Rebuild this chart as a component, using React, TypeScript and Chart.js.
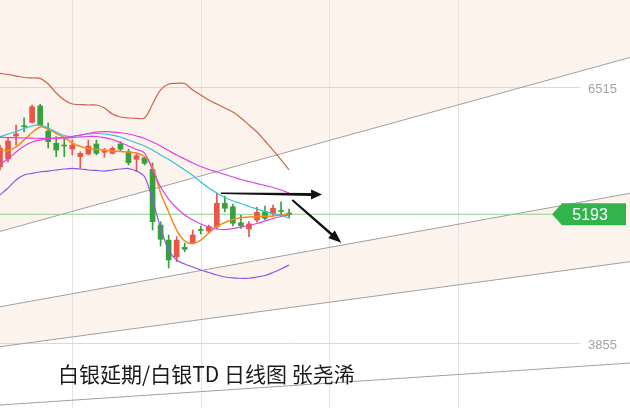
import React, { useEffect, useRef } from "react";
import { Chart, registerables } from "chart.js";
Chart.register(...registerables);

// ---- axis ranges (price / day index) ----
const X_MIN = 0;
const X_MAX = 78.45;
const Y_MIN = 3180;
const Y_MAX = 7419;

// ---- daily candles ----
const days = [0, 1, 2, 3, 4, 5, 6, 7, 8, 9, 10, 11, 12, 13, 14, 15, 16, 17, 18, 19, 20, 21, 22, 23, 24, 25, 26, 27, 28, 29, 30, 31, 32, 33, 34, 35, 36];
const opens = [5684, 5767, 6006, 6113, 6148, 6318, 6058, 5930, 5912, 5871, 5791, 5819, 5923, 5837, 5826, 5923, 5843, 5764, 5780, 5660, 5081, 4925, 4752, 4850, 4897, 5035, 5019, 5064, 5307, 5271, 5105, 5040, 5133, 5219, 5203, 5232, 5206];
const closes = [5881, 5954, 6027, 6103, 6310, 6120, 5947, 5860, 5902, 5912, 5826, 5902, 5826, 5853, 5878, 5868, 5729, 5801, 5722, 5116, 4933, 4718, 4925, 4829, 4977, 5024, 5064, 5307, 5255, 5099, 5074, 5092, 5213, 5151, 5255, 5222, 5193];
const highs = [5912, 5985, 6120, 6196, 6328, 6335, 6141, 5999, 5985, 5964, 5843, 5964, 5964, 5878, 5895, 5947, 5868, 5829, 5791, 5726, 5116, 4977, 4960, 4894, 5029, 5071, 5081, 5411, 5383, 5299, 5185, 5116, 5268, 5279, 5289, 5323, 5247];
const lows = [5653, 5736, 5912, 6048, 6141, 6113, 5881, 5791, 5791, 5809, 5670, 5809, 5809, 5785, 5819, 5853, 5705, 5635, 5705, 5029, 4863, 4634, 4700, 4804, 4884, 4988, 4998, 5040, 5216, 5071, 5047, 4960, 5112, 5133, 5175, 5185, 5154];

// ---- indicator lines ----
const bollUpper = [6657, 6645, 6629, 6614, 6609, 6605, 6546, 6453, 6380, 6338, 6333, 6328, 6328, 6297, 6234, 6203, 6193, 6190, 6193, 6338, 6484, 6546, 6553, 6551, 6484, 6432, 6380, 6338, 6297, 6255, 6193, 6120, 6048, 5954, 5860, 5757, 5653];
const bollLower = [5393, 5466, 5549, 5601, 5618, 5632, 5642, 5653, 5663, 5670, 5663, 5653, 5648, 5642, 5653, 5663, 5668, 5642, 5583, 5341, 5050, 4822, 4718, 4676, 4645, 4614, 4588, 4562, 4541, 4531, 4528, 4528, 4541, 4557, 4588, 4624, 4666];
const maMagenta = [5992, 5990, 5987, 5985, 5983, 5982, 5982, 5985, 5992, 6001, 6016, 6032, 6047, 6051, 6047, 6040, 6027, 6006, 5980, 5944, 5902, 5855, 5809, 5767, 5725, 5689, 5658, 5632, 5606, 5580, 5554, 5533, 5512, 5492, 5471, 5445, 5414];
const maCyan = [5996, 6027, 6053, 6084, 6110, 6120, 6089, 6047, 6011, 6001, 6016, 6027, 6032, 6027, 6016, 5996, 5964, 5933, 5902, 5861, 5809, 5762, 5710, 5653, 5596, 5528, 5466, 5414, 5367, 5331, 5305, 5274, 5248, 5222, 5201, 5180, 5154];
const maPink = [5715, 5767, 5840, 5902, 5944, 5964, 5978, 5982, 5985, 5990, 5996, 6001, 6001, 5990, 5970, 5938, 5902, 5866, 5829, 5653, 5476, 5351, 5258, 5185, 5133, 5092, 5060, 5040, 5034, 5045, 5060, 5076, 5097, 5123, 5149, 5170, 5185];
const maOrange = [5861, 5855, 5892, 5964, 6042, 6100, 6079, 6032, 5990, 5933, 5897, 5876, 5866, 5861, 5850, 5845, 5840, 5829, 5793, 5684, 5414, 5216, 5029, 4915, 4889, 4925, 4998, 5066, 5107, 5138, 5157, 5164, 5170, 5172, 5175, 5185, 5196];

// ---- trend channel lines (price at left / right edge) ----
const trendX = [X_MIN, X_MAX];
const trend1 = [5015, 6822];
const trend2 = [4232, 5411];
const trend3 = [3817, 4700];
const trend4 = [3211, 3647];

// ---- annotations ----
const gridPrices = [6515, 3855];
const gridDays = [9, 25, 41, 57];
const gridLineEndDay = 72.2;
const lastPrice = 5193;
const priceLineEndDay = 68.7;
const hArrowX = [27.5, 40.1];
const hArrowY = [5411, 5398];
const dArrowX = [36.4, 42.5];
const dArrowY = [5341, 4897];
const titleText = "白银延期/白银TD 日线图 张尧浠";

const RED = "#e6564b";
const GREEN = "#36a23f";
const PEACH = "#fdf3ed";

const pts = (xs: number[], ys: number[]) => xs.map((x, i) => ({ x, y: ys[i] }));

function drawArrow(ctx: CanvasRenderingContext2D, x1: number, y1: number, x2: number, y2: number, w1: number, w2: number, headLen: number, headHalf: number) {
  const dx = x2 - x1, dy = y2 - y1;
  const len = Math.hypot(dx, dy);
  const ux = dx / len, uy = dy / len;
  const nx = -uy, ny = ux;
  const bx = x2 - ux * headLen, by = y2 - uy * headLen;
  ctx.beginPath();
  ctx.moveTo(x1 + nx * w1 / 2, y1 + ny * w1 / 2);
  ctx.lineTo(bx + nx * w2 / 2, by + ny * w2 / 2);
  ctx.lineTo(bx + nx * headHalf, by + ny * headHalf);
  ctx.lineTo(x2, y2);
  ctx.lineTo(bx - nx * headHalf, by - ny * headHalf);
  ctx.lineTo(bx - nx * w2 / 2, by - ny * w2 / 2);
  ctx.lineTo(x1 - nx * w1 / 2, y1 - ny * w1 / 2);
  ctx.closePath();
  ctx.fill();
}

const overlayPlugin = {
  id: "overlay",
  beforeDatasetsDraw(chart: any) {
    const { ctx, chartArea } = chart;
    const x = chart.scales.x, y = chart.scales.y;
    ctx.save();
    ctx.lineWidth = 1;
    ctx.strokeStyle = "#e3e3e3";
    gridDays.forEach((d) => {
      const px = Math.round(x.getPixelForValue(d)) + 0.5;
      ctx.beginPath();
      ctx.moveTo(px, chartArea.top);
      ctx.lineTo(px, chartArea.bottom);
      ctx.stroke();
    });
    ctx.strokeStyle = "#d9d9d9";
    gridPrices.forEach((p) => {
      const py = Math.round(y.getPixelForValue(p)) + 0.5;
      ctx.beginPath();
      ctx.moveTo(chartArea.left, py);
      ctx.lineTo(x.getPixelForValue(gridLineEndDay), py);
      ctx.stroke();
    });
    ctx.restore();
  },
  afterDatasetsDraw(chart: any) {
    const { ctx } = chart;
    const x = chart.scales.x, y = chart.scales.y;
    ctx.save();
    ctx.fillStyle = "#111";
    drawArrow(ctx, x.getPixelForValue(hArrowX[0]), y.getPixelForValue(hArrowY[0]), x.getPixelForValue(hArrowX[1]), y.getPixelForValue(hArrowY[1]), 1.5, 3, 11, 5);
    drawArrow(ctx, x.getPixelForValue(dArrowX[0]), y.getPixelForValue(dArrowY[0]), x.getPixelForValue(dArrowX[1]), y.getPixelForValue(dArrowY[1]), 2, 2.5, 13, 5);

    // price scale labels
    ctx.font = '13px "Liberation Sans", Arial, sans-serif';
    ctx.fillStyle = "#a3a3a3";
    ctx.textAlign = "right";
    ctx.textBaseline = "middle";
    gridPrices.forEach((p) => {
      ctx.fillText(String(p), 617, y.getPixelForValue(p) + 2);
    });

    // last price tag
    const ty = y.getPixelForValue(lastPrice);
    ctx.fillStyle = "#33b34b";
    ctx.beginPath();
    ctx.moveTo(552, ty);
    ctx.lineTo(562, ty - 11);
    ctx.lineTo(626, ty - 11);
    ctx.lineTo(626, ty + 11);
    ctx.lineTo(562, ty + 11);
    ctx.closePath();
    ctx.fill();
    ctx.fillStyle = "#ffffff";
    ctx.font = '16px "Liberation Sans", Arial, sans-serif';
    ctx.textAlign = "center";
    ctx.fillText(String(lastPrice), 590, ty + 1);
    ctx.restore();
  },
};

export default function App() {
  const ref = useRef<HTMLCanvasElement | null>(null);
  useEffect(() => {
    if (!ref.current) return;
    const candleColors = days.map((_, i) => (closes[i] >= opens[i] ? RED : GREEN));
    const line = (data: number[], color: string, width = 1.2) => ({
      type: "line" as const,
      data: pts(days, data),
      borderColor: color,
      borderWidth: width,
      pointRadius: 0,
      tension: 0.35,
      fill: false,
      order: 1,
    });
    const trend = (data: number[], fill: any, bg?: string) => ({
      type: "line" as const,
      data: pts(trendX, data),
      borderColor: "#a0a0a0",
      borderWidth: 1,
      pointRadius: 0,
      tension: 0,
      fill,
      backgroundColor: bg || "transparent",
      order: 20,
    });
    const chart = new Chart(ref.current, {
      type: "bar",
      data: {
        datasets: [
          trend(trend1, "end", PEACH) as any,
          trend(trend2, "+1", PEACH) as any,
          trend(trend3, false) as any,
          trend(trend4, false) as any,
          {
            type: "line",
            data: pts([X_MIN, priceLineEndDay], [lastPrice, lastPrice]),
            borderColor: "#8fd18f",
            borderWidth: 1,
            pointRadius: 0,
            fill: false,
            order: 15,
          } as any,
          {
            type: "bar",
            data: days.map((d, i) => ({ x: d, y: [lows[i], highs[i]] })),
            backgroundColor: candleColors,
            barThickness: 1,
            grouped: false,
            borderWidth: 0,
            order: 6,
          } as any,
          {
            type: "bar",
            data: days.map((d, i) => ({ x: d, y: [opens[i], closes[i]] })),
            backgroundColor: candleColors,
            barThickness: 5,
            minBarLength: 1,
            grouped: false,
            borderWidth: 0,
            order: 5,
          } as any,
          line(bollUpper, "#c8654a") as any,
          line(bollLower, "#8d55e6") as any,
          line(maMagenta, "#e040e6") as any,
          line(maCyan, "#33c2d6") as any,
          line(maPink, "#e63fd8") as any,
          line(maOrange, "#f58a1f", 1.5) as any,
        ],
      },
      options: {
        responsive: true,
        maintainAspectRatio: false,
        animation: false,
        events: [],
        layout: { padding: 0 },
        scales: {
          x: { type: "linear", min: X_MIN, max: X_MAX, display: false, offset: false },
          y: { type: "linear", min: Y_MIN, max: Y_MAX, display: false },
        },
        plugins: {
          legend: { display: false },
          tooltip: { enabled: false },
          title: { display: false },
          filler: { drawTime: "beforeDatasetsDraw", propagate: false },
        },
      } as any,
      plugins: [overlayPlugin],
    });
    return () => chart.destroy();
  }, []);

  return (
    <div style={{ position: "fixed", left: 0, top: 0, width: 630, height: 408, background: "#fff", overflow: "hidden" }}>
      <canvas ref={ref} />
      <div
        style={{
          position: "absolute",
          left: 58,
          top: 363,
          fontFamily: '"Noto Sans CJK SC", sans-serif',
          fontSize: 21,
          lineHeight: "21px",
          color: "#1a1a1a",
          whiteSpace: "nowrap",
        }}
      >
        {titleText}
      </div>
    </div>
  );
}
